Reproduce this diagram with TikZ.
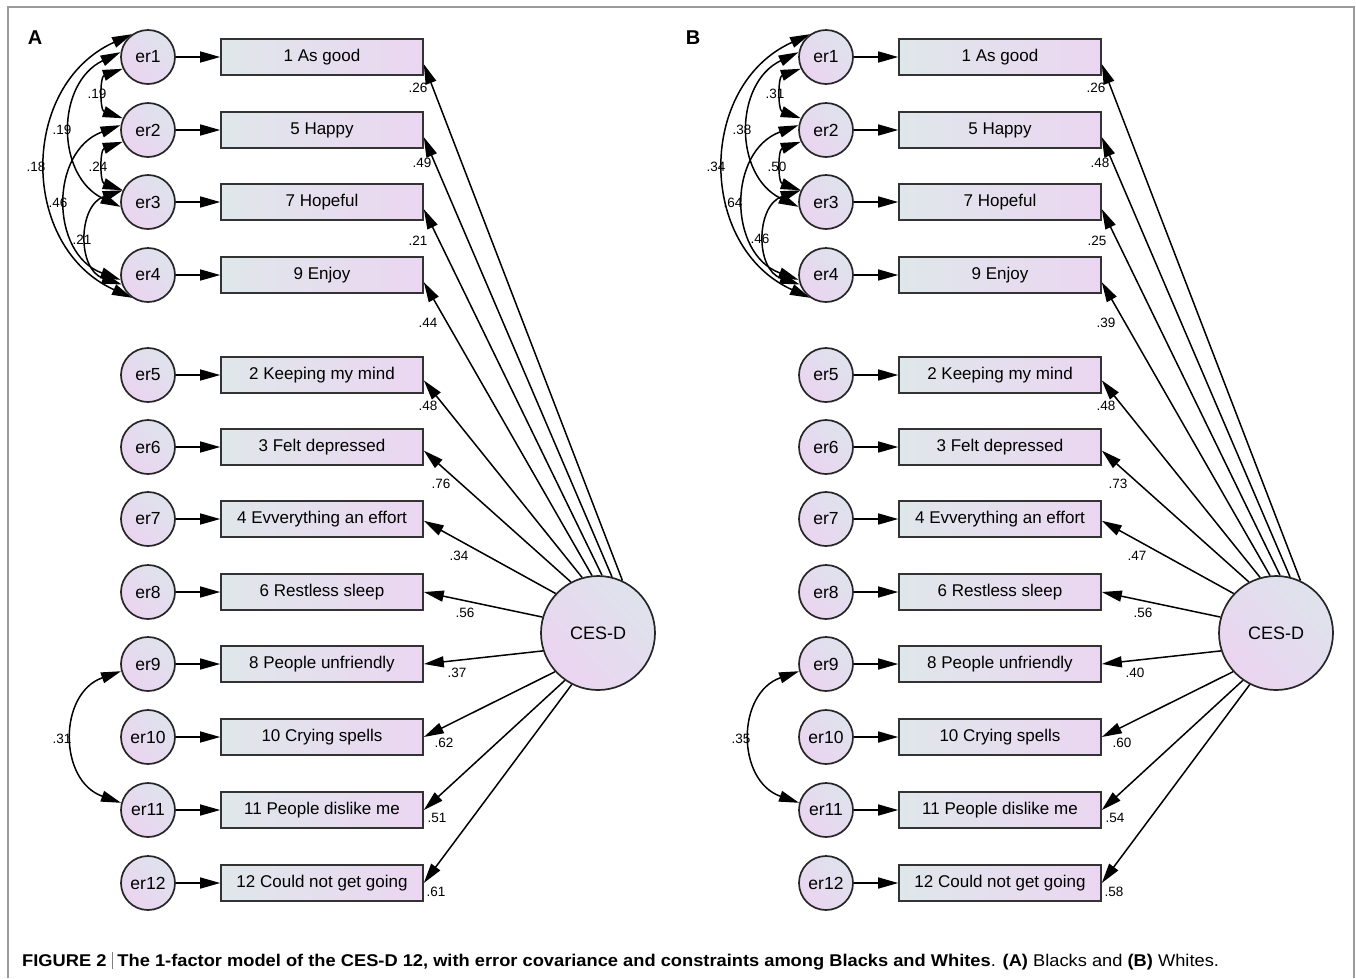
\documentclass[tikz,border=0pt]{standalone}
\usepackage{fontspec}
\setmainfont{Liberation Sans}
\usetikzlibrary{arrows.meta}

\definecolor{boxL}{HTML}{DFE7EA}
\definecolor{boxR}{HTML}{EBD6F1}
\definecolor{circA}{HTML}{DEE3EC}
\definecolor{circB}{HTML}{EBD4F0}
\definecolor{framegray}{HTML}{9A9A9A}

\tikzset{
  >={Triangle[length=20pt,width=11pt]},
  errvar/.style={circle, draw=black!85, line width=1.7pt, minimum size=54pt, inner sep=0pt,
    left color=circA, right color=circB, shading angle=-45, font=\fontsize{17.5}{19}\selectfont},
  obsbox/.style={rectangle, draw=black!80, line width=1.6pt, minimum width=202pt, minimum height=36pt,
    inner sep=0pt, left color=boxL, right color=boxR, font=\fontsize{17}{19}\selectfont},
  latent/.style={circle, draw=black!85, line width=1.7pt, minimum size=114pt, inner sep=0pt,
    left color=circA, right color=circB, shading angle=-45, font=\fontsize{18}{20}\selectfont},
  regr/.style={->, line width=1.5pt},
  cov/.style={<->, line width=1.5pt},
  coef/.style={font=\fontsize{13.5}{15}\selectfont, inner sep=0pt},
  paneltag/.style={font=\bfseries\fontsize{20}{22}\selectfont, inner sep=0pt},
}

% One measurement model: error terms, indicators, the factor, loadings and covariances
\newcommand\semPanel[1]{%
  \foreach \i/\y/\t in {1/57/1 As good,2/130/5 Happy,3/202/7 Hopeful,4/275/9 Enjoy,
      5/375/2 Keeping my mind,6/447/3 Felt depressed,7/519/4 Evverything an effort,
      8/592/6 Restless sleep,9/664/8 People unfriendly,10/737/10 Crying spells,
      11/810/11 People dislike me,12/883/12 Could not get going}{
    \node[errvar] (#1e\i) at (148,\y) {er\i};
    \node[obsbox] (#1b\i) at (322,\y) {\t};
    \draw[regr] (#1e\i) -- (#1b\i);
  }
  \node[latent] (#1f) at (598,633) {CES-D};
  \foreach \i/\a/\b in {1/65/-4,2/76/-4,3/86/-4,4/96/-4,5/106/-3,6/118/-2,7/137/-1,
      8/164/0,9/198/0,10/222/0,11/235/0,12/243/0}{
    \draw[regr] (#1f.\a) -- (#1b\i.\b);
  }
  % error covariances
  \draw[cov] (#1e1.125) .. controls +(-113,51) and +(-113,-51) .. (#1e4.235);
  \draw[cov] (#1e1.170) .. controls +(-65,31) and +(-65,-31) .. (#1e3.190);
  \draw[cov] (#1e2.170) .. controls +(-71,26) and +(-71,-26) .. (#1e4.190);
  \draw[cov] (#1e3.155) .. controls +(-45,15) and +(-45,-15) .. (#1e4.200);
  \draw[cov] (#1e1.205) .. controls +(-23,8) and +(-23,-8) .. (#1e2.155);
  \draw[cov] (#1e2.205) .. controls +(-23,8) and +(-23,-8) .. (#1e3.155);
  \draw[cov] (#1e9.195) .. controls +(-63,22) and +(-63,-22) .. (#1e11.165);
}

\begin{document}
\begin{tikzpicture}[x=1pt, y=-1pt]
  \useasboundingbox (0,0) rectangle (1356,978);
  \fill[white] (0,0) rectangle (1356,978);
  \draw[framegray, line width=1.3pt] (8,978) -- (8,7) -- (1354,7) -- (1354,978);

  % panel A: Blacks
  \node[paneltag] (tagA) at (35,38) {A};
  \semPanel{A}
  \foreach \x/\y/\v in {418/88/.26,422/163/.49,418/241/.21,428/323/.44,428/406/.48,
      441/484/.76,459/556/.34,465/613/.56,457/673/.37,444/743/.62,437/818/.51,436/892/.61,
      97/94/.19,62/130/.19,36/167/.18,98/167/.24,58/203/.46,82/240/.21,62/739/.31}{
    \node[coef] at (\x,\y) {\v};
  }

  % panel B: Whites
  \node[paneltag] (tagB) at (693,38) {B};
  \begin{scope}[shift={(678,0)}]
    \semPanel{B}
  \end{scope}
  \foreach \x/\y/\v in {1096/88/.26,1100/163/.48,1097/241/.25,1106/323/.39,1106/406/.48,
      1118/484/.73,1137/556/.47,1143/613/.56,1135/673/.40,1122/743/.60,1115/818/.54,1114/892/.58,
      775/94/.31,742/130/.38,716/167/.34,777/167/.50,733/203/.64,760/239/.46,741/739/.35}{
    \node[coef] at (\x,\y) {\v};
  }

  % caption
  \node[anchor=west, inner sep=0pt, font=\fontsize{17}{19}\selectfont] (caption) at (22,961)
    {\scalebox{1.075}[1]{\textbf{FIGURE 2} \textcolor{gray}{\rule[-3pt]{0.8pt}{17pt}} \textbf{The 1-factor model of the CES-D 12, with error covariance and constraints among Blacks and Whites}. \textbf{(A)} Blacks and \textbf{(B)} Whites.}};
\end{tikzpicture}
\end{document}
